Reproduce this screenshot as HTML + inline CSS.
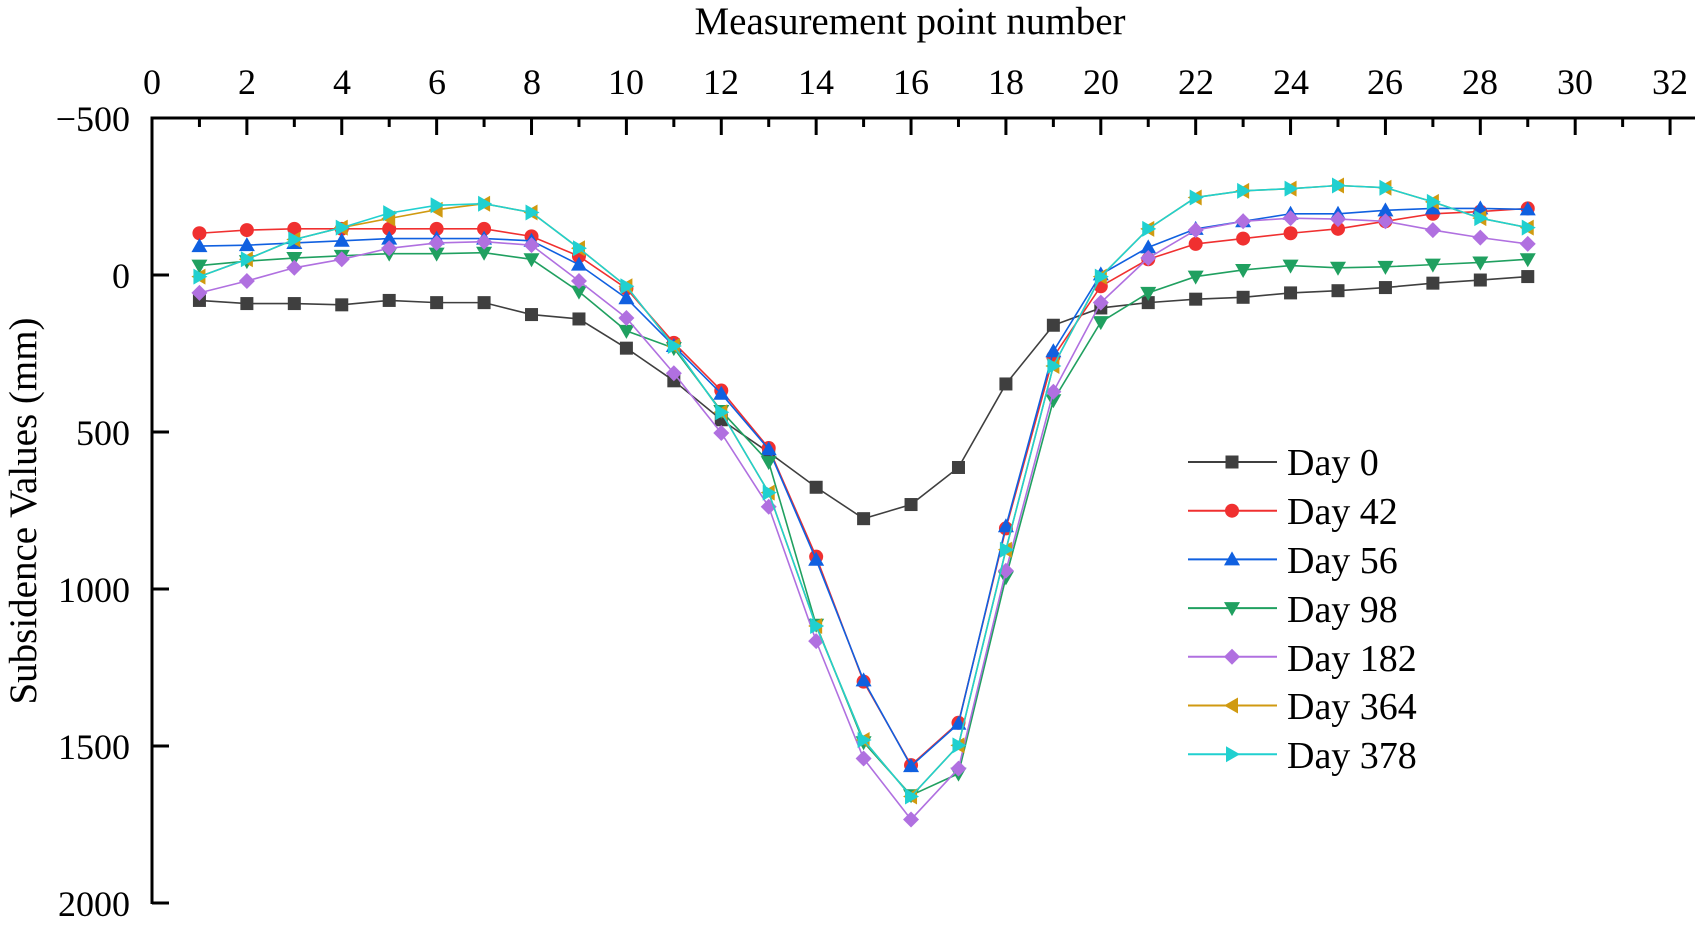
<!DOCTYPE html>
<html><head><meta charset="utf-8"><style>
html,body{margin:0;padding:0;background:#fff;}
svg{display:block;font-family:"Liberation Serif","DejaVu Serif",serif;}
</style></head><body>
<svg id="s" width="1699" height="925" viewBox="0 0 1699 925" xmlns="http://www.w3.org/2000/svg">
<rect width="1699" height="925" fill="#fff"/>
<text x="910" y="34" font-size="39" text-anchor="middle">Measurement point number</text>
<g font-size="36" text-anchor="middle">
<text x="152" y="94">0</text><text x="247" y="94">2</text><text x="342" y="94">4</text><text x="437" y="94">6</text><text x="532" y="94">8</text><text x="626" y="94">10</text><text x="721" y="94">12</text><text x="816" y="94">14</text><text x="911" y="94">16</text><text x="1006" y="94">18</text><text x="1101" y="94">20</text><text x="1196" y="94">22</text><text x="1291" y="94">24</text><text x="1385" y="94">26</text><text x="1480" y="94">28</text><text x="1575" y="94">30</text><text x="1670" y="94">32</text>
</g>
<g font-size="36" text-anchor="end">
<text x="130" y="131">−500</text><text x="130" y="288">0</text><text x="130" y="445">500</text><text x="130" y="602">1000</text><text x="130" y="759">1500</text><text x="130" y="916">2000</text>
</g>
<text transform="translate(36,511) rotate(-90)" font-size="39" text-anchor="middle">Subsidence Values (mm)</text>
<g id="axes" stroke="#000" stroke-width="3" fill="none"></g>
<g id="series"></g>
<g font-size="38">
<text x="1287" y="475">Day 0</text><text x="1287" y="524">Day 42</text><text x="1287" y="573">Day 56</text><text x="1287" y="622">Day 98</text><text x="1287" y="671">Day 182</text><text x="1287" y="719">Day 364</text><text x="1287" y="768">Day 378</text>
</g>
<g id="leg"></g>
</svg>
<script>
function X(i){return 152+47.44*i;}
function Y(v){return 275+v*0.314;}
var ax=document.getElementById('axes'),h='';
h+='<path d="M152,904 V118 H1695"/>';
for(var i=1;i<=32;i++){var x=X(i);h+='<path d="M'+x+',118 V'+(118+(i%2?9:17))+'"/>';}
for(var v=0;v<=2000;v+=500){h+='<path d="M152,'+Y(v)+' H169"/>';}
ax.innerHTML=h;
var S=[
["#3f3f3f","sq",[81,91,91,95,81,88,88,126,140,233,337,461,565,676,776,731,613,347,160,105,88,77,71,57,50,40,26,16,5]],
["#f03030","ci",[-133,-143,-147,-147,-147,-147,-147,-123,-60,43,216,368,551,897,1295,1561,1426,807,261,36,-50,-99,-116,-133,-147,-171,-195,-202,-212]],
["#1060e0","tu",[-92,-95,-102,-109,-116,-116,-116,-109,-33,74,226,378,555,907,1291,1564,1429,800,243,-2,-88,-147,-171,-195,-195,-206,-212,-212,-209]],
["#20a060","td",[-30,-44,-54,-61,-68,-68,-71,-50,53,178,233,433,596,1114,1488,1657,1588,963,399,150,57,5,-16,-30,-23,-26,-33,-40,-50]],
["#b070e0","di",[57,19,-23,-50,-85,-102,-106,-95,19,137,313,503,738,1166,1540,1734,1572,942,372,88,-54,-143,-171,-181,-178,-171,-143,-119,-99]],
["#d09a10","tl",[5,-50,-113,-151,-180,-208,-227,-199,-85,36,226,437,693,1118,1481,1661,1498,875,290,5,-147,-247,-268,-275,-285,-278,-233,-181,-151]],
["#20d0d0","tr",[5,-50,-113,-151,-197,-222,-227,-199,-85,36,226,437,693,1118,1481,1661,1498,875,290,5,-147,-247,-268,-275,-285,-278,-233,-181,-151]]
];
function mk(t,x,y,c){var r=6.5;
 if(t=="sq")return '<rect x="'+(x-r)+'" y="'+(y-r)+'" width="13" height="13" fill="'+c+'"/>';
 if(t=="ci")return '<circle cx="'+x+'" cy="'+y+'" r="7" fill="'+c+'"/>';
 var p;
 if(t=="tu")p=[[x,y-8],[x+8,y+6],[x-8,y+6]];
 if(t=="td")p=[[x,y+8],[x+8,y-6],[x-8,y-6]];
 if(t=="tl")p=[[x-8,y],[x+6,y-8],[x+6,y+8]];
 if(t=="tr")p=[[x+8,y],[x-6,y-8],[x-6,y+8]];
 if(t=="di")p=[[x,y-8],[x+8,y],[x,y+8],[x-8,y]];
 return '<polygon points="'+p.map(function(a){return a.join(',')}).join(' ')+'" fill="'+c+'"/>';}
var g='',l='';
S.forEach(function(s,k){
 var pts=s[2].map(function(v,i){return X(i+1)+','+Y(v);});
 g+='<polyline points="'+pts.join(' ')+'" fill="none" stroke="'+s[0]+'" stroke-width="1.6"/>';
 s[2].forEach(function(v,i){g+=mk(s[1],X(i+1),Y(v),s[0]);});
 var ly=462+48.7*k;
 l+='<path d="M1188,'+ly+' H1277" stroke="'+s[0]+'" stroke-width="2"/>'+mk(s[1],1232,ly,s[0]);
});
document.getElementById('series').innerHTML=g;
document.getElementById('leg').innerHTML=l;
</script>
</body></html>
